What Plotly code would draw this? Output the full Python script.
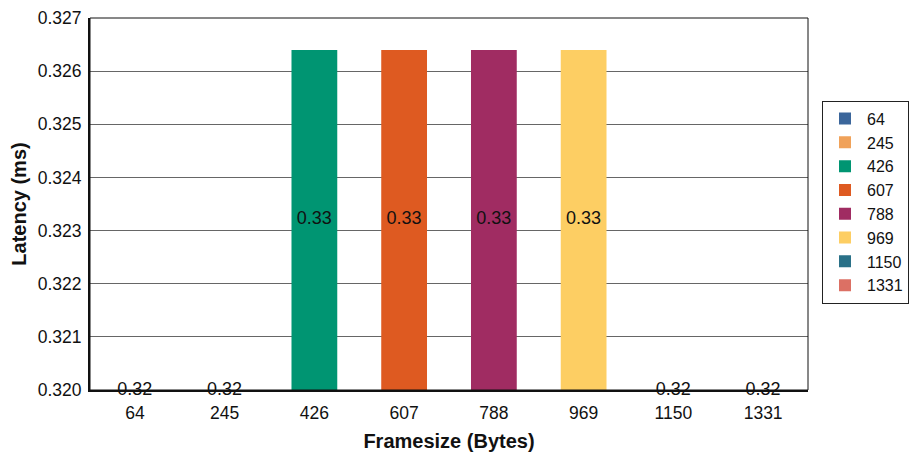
import plotly.graph_objects as go

categories = ["64", "245", "426", "607", "788", "969", "1150", "1331"]
latency_ms = [0.32, 0.32, 0.3264, 0.3264, 0.3264, 0.3264, 0.32, 0.32]
colors = ["#3b669b", "#f0a25a", "#009572", "#de5a21", "#a02c62", "#fdce63", "#2a7188", "#dc7064"]
y_min, y_max = 0.320, 0.327
y_ticks = [0.320, 0.321, 0.322, 0.323, 0.324, 0.325, 0.326, 0.327]

FONT = "Liberation Sans, Arial, sans-serif"

fig = go.Figure()
for cat, val, col in zip(categories, latency_ms, colors):
    fig.add_trace(go.Bar(
        x=[cat], y=[val], name=cat, marker=dict(color=col, line=dict(width=0)),
        width=0.51, showlegend=True,
    ))

# labels at the middle of the visible part of each bar
label_y = []
for v in latency_ms:
    top = min(max(v, y_min), y_max)
    label_y.append((y_min + top) / 2)
fig.add_trace(go.Scatter(
    x=categories, y=label_y, mode="text",
    text=[f"{v:.2f}" for v in latency_ms],
    textfont=dict(family=FONT, size=18, color="#111111"),
    showlegend=False, hoverinfo="skip", cliponaxis=False,
))

fig.update_layout(
    width=923, height=459,
    margin=dict(l=82, r=123, t=10, b=77, autoexpand=False),
    paper_bgcolor="white", plot_bgcolor="white",
    barmode="overlay",
    font=dict(family=FONT, size=17.5, color="#111111"),
    legend=dict(
        x=0.0195 + 1, xanchor="left", y=0.505, yanchor="middle",
        bordercolor="#222222", borderwidth=1,
        font=dict(family=FONT, size=16, color="#111111"),
        tracegroupgap=0, itemwidth=34,
    ),
    xaxis=dict(
        type="category", categoryorder="array", categoryarray=categories,
        showline=True, linecolor="#111111", linewidth=2, automargin=False,
        ticks="", showgrid=False, ticklabelstandoff=6,
        tickfont=dict(family=FONT, size=17.5, color="#111111"),
        title=dict(text="<b>Framesize (Bytes)</b>", font=dict(family=FONT, size=20, color="#111111"), standoff=12),
    ),
    yaxis=dict(
        range=[y_min, y_max], tickvals=y_ticks, tickformat=".3f",
        showline=True, linecolor="#111111", linewidth=2, automargin=False,
        showgrid=True, gridcolor="#666666", gridwidth=1,
        zeroline=False, ticks="", ticklabelstandoff=3, ticklabeloverflow="allow",
        tickfont=dict(family=FONT, size=17.5, color="#111111"),
        title=dict(text="<b>Latency (ms)</b>", font=dict(family=FONT, size=20, color="#111111"), standoff=10),
    ),
    shapes=[dict(type="rect", xref="paper", yref="paper", x0=0, x1=1, y0=0, y1=1,
                 line=dict(color="#111111", width=1), layer="above")],
)

fig.write_html("out.html")
